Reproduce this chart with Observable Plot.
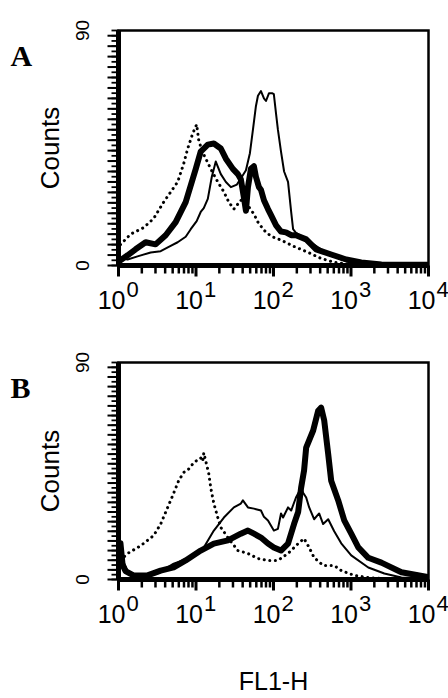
<!DOCTYPE html>
<html><head><meta charset="utf-8">
<script src="https://cdn.jsdelivr.net/npm/d3@7"></script>
<script src="https://cdn.jsdelivr.net/npm/@observablehq/plot@0.6"></script>
<style>
html,body{margin:0;padding:0;background:#fff;}
#wrap{position:relative;width:448px;height:698px;overflow:hidden;background:#fff;}
#wrap > svg{position:absolute;left:0;}
</style></head><body><div id="wrap"></div>
<script>
// Panel A
const aThinFL = [1.06,1.31,1.76,2.6,3.5,4.71,5.8,7.36,8.55,10.2,11.5,12.6,14.2,16.0,18.0,20.9,24.3,28.2,33.7,39.1,44.1,49.6,54.3,59.3,63.0,68.9,75.3,80.0,87.5,95.7,101,108,114,125,137,154,169,179,195,264,412,748,1007,1829,10000];
const aThinCounts = [3,2.3,3.5,5,5.5,7.5,8.9,11,13.9,17,20.5,22,25.5,34,39.8,35,32,30,31,34,36.5,43,52,61,65,66.8,64,63,66,66,65.6,58,52,43.6,36,32,20.5,13.9,12.5,10,6.2,2.3,1.2,0.4,0];
const aThickFL = [1.06,1.31,1.66,2.24,3.01,4.06,5.47,7.36,9.93,11.5,14.2,17.0,20.9,24.3,29.9,34.7,37.9,41.5,44.1,46.8,51.1,55.9,59.3,64.9,68.9,75.3,84.9,92.9,108,125,145,169,195,264,355,555,868,1357,2466,10000];
const aThickCounts = [2,3.9,6.2,8.9,8.1,11.6,16.6,24.3,37,43.6,46.3,46.7,44.8,40.9,37,35,33,26,21,30,37,38,34,30,29,25,21.6,19.3,15.4,13,12.7,11.6,11.6,10,6.2,4.2,2.3,1.2,0.4,0.3];
const aDotFL = [1.06,1.43,2.11,2.84,3.83,5.8,6.94,7.82,9.08,10.2,10.9,12.6,15.5,19.1,22.9,26.5,30.8,37.9,48.2,55.9,63.0,75.3,92.9,125,184,280,412,607,1007];
const aDotCounts = [8,12,14.5,18,24.3,32,39,44.8,50.6,54,47.5,42.5,37,32,28.2,24.3,21.6,25,22.4,19.7,16.6,13.5,11.2,9.7,7.3,5,2.7,1.2,0.4];

// Panel B
const bThickFL = [1.06,1.13,1.23,1.56,2.37,3.5,5.15,7.36,11.5,17.0,25.8,37.9,46.8,55.9,68.9,84.9,101,125,154,184,208,227,248,264,325,377,412,451,508,555,684,818,1007,1242,1672,2466,4469,10000];
const bThickCounts = [15,6,3.5,1.7,1.7,3.7,5,7.9,12,14.9,16.2,19,20.3,19,17.4,14.9,13.3,12,14.9,23,28,38,45.2,54.7,61.8,70,71.3,66,52,41,32.8,24.5,19,13.3,9,7,3,1];
const bThinFL = [1.06,1.31,1.93,3.2,5.15,8.55,12.6,17.0,22.9,30.8,37.9,40.3,46.8,55.9,68.9,75.3,84.9,101,114,125,133,154,169,195,208,227,241,264,288,334,388,437,508,607,748,1007,1672,2694,4469,10000];
const bThinCounts = [10,3.7,0.8,2.5,6.6,9.1,13.3,20.3,25.7,29.9,31.5,32.8,29.9,29.4,28.6,26,24.5,20.3,21,27.4,25.7,29.9,28.6,34,35.7,38,36,34,30,25,27.4,23,25,20,15,10,5,2.5,0.8,0.5];
const bDotFL = [1.06,1.31,1.93,2.84,3.5,4.31,5.0,5.98,6.94,8.2,9.35,11.5,12.2,12.6,14.6,15.5,17.0,19.1,20.9,25.8,34.7,46.8,63.0,84.9,114,154,208,248,288,334,437,607,748,1102,1672,2466];
const bDotCounts = [8,10.8,14,18.2,23,29.9,34.8,41,44.4,46,48.5,50.4,49,52.5,44,38,31.5,25.7,21.6,17.4,12,10.8,8.7,7.9,7.9,10.8,14.9,17,13.3,9.1,5.8,5.8,3.7,1.7,0.8,0.4];

// Axes
const decades = [1,10,100,1000,10000];
const exponents = ["0","1","2","3","4"];
const minorMultipliers = [2,3,4,5,6,7,8,9];
const yTickValues = d3.range(0, 91, 2);
const yMajorValues = d3.range(0, 91, 4);
const yLabels = [0, 90];
const panelLetters = ["A", "B"];
const yAxisLabel = "Counts";
const xAxisLabel = "FL1-H";

const xMin = decades[0];
const yMin = yLabels[0];
const minorTicks = decades.slice(0, -1).flatMap(d => minorMultipliers.map(k => k * d));
const rows = (fl, counts) => fl.map((v, i) => ({fl: v, count: counts[i]}));
const yTickRows = vals => vals.map(v => ({x0: xMin, v}));
const xTickRows = vals => vals.map(v => ({v, y0: yMin}));
const decadeRows = decades.map((v, i) => ({v, exp: exponents[i], base: "10"}));
const yLabelRows = yLabels.map(v => ({v, label: String(v)}));

// tick glyphs drawn as dot symbols (screen-space lengths)
const leftTick = len => ({draw(ctx) { ctx.moveTo(-len, 0); ctx.lineTo(0, 0); }});
const downTick = len => ({draw(ctx) { ctx.moveTo(0, 0); ctx.lineTo(0, len); }});

function panel({letter, thin, thick, dotted, height, marginTop, marginBottom, top, showX}) {
  const marks = [
    Plot.line(dotted, {x: "fl", y: "count", stroke: "#000", strokeWidth: 3, strokeDasharray: "0.1 5.5", strokeLinecap: "round", clip: true}),
    Plot.line(thin, {x: "fl", y: "count", stroke: "#000", strokeWidth: 2, clip: true}),
    Plot.line(thick, {x: "fl", y: "count", stroke: "#000", strokeWidth: 6, strokeLinejoin: "round", clip: true}),
    Plot.dot(yTickRows(yTickValues), {x: "x0", y: "v", symbol: leftTick(7), r: 4, fill: "none", stroke: "#000", strokeWidth: 1.8}),
    Plot.dot(yTickRows(yMajorValues), {x: "x0", y: "v", symbol: leftTick(11), r: 4, fill: "none", stroke: "#000", strokeWidth: 2}),
    Plot.dot(xTickRows(minorTicks), {x: "v", y: "y0", symbol: downTick(8), r: 4, fill: "none", stroke: "#000", strokeWidth: 2.5}),
    Plot.dot(xTickRows(decades), {x: "v", y: "y0", symbol: downTick(11), r: 4, fill: "none", stroke: "#000", strokeWidth: 3}),
    Plot.frame({stroke: "#000", strokeWidth: 2.5}),
    Plot.ruleX([xMin], {stroke: "#000", strokeWidth: 5}),
    Plot.ruleY([yMin], {stroke: "#000", strokeWidth: 5}),
    Plot.text(decadeRows, {x: "v", frameAnchor: "bottom", text: "base", textAnchor: "end", lineAnchor: "bottom", dx: 7, dy: 43, fontSize: 25}),
    Plot.text(decadeRows, {x: "v", frameAnchor: "bottom", text: "exp", textAnchor: "start", lineAnchor: "bottom", dx: 8, dy: 31, fontSize: 22}),
    Plot.text(yLabelRows, {y: "v", frameAnchor: "left", text: "label", rotate: -90, dx: -36, fontSize: 19, textAnchor: "middle", lineAnchor: "middle"}),
    Plot.text([yAxisLabel], {frameAnchor: "left", text: d => d, rotate: -90, dx: -68, fontSize: 26, textAnchor: "middle", lineAnchor: "middle"}),
    Plot.text([letter], {frameAnchor: "top-left", text: d => d, dx: -108, dy: 35, fontFamily: "Liberation Serif, 'Times New Roman', serif", fontWeight: "bold", fontSize: 30, textAnchor: "start", lineAnchor: "bottom"})
  ];
  if (showX) {
    marks.push(Plot.text([xAxisLabel], {frameAnchor: "bottom", text: d => d, dy: 110, fontSize: 25, lineAnchor: "bottom"}));
  }
  const svg = Plot.plot({
    width: 448, height, marginLeft: 118, marginRight: 20, marginTop, marginBottom,
    x: {type: "log", domain: [1, 10000], axis: null},
    y: {domain: [0, 90], axis: null},
    style: {fontFamily: "'Liberation Sans', Arial, Helvetica, sans-serif", background: "white", color: "#000"},
    marks
  });
  svg.style.top = top + "px";
  document.getElementById("wrap").append(svg);
}

panel({letter: panelLetters[0], thin: rows(aThinFL, aThinCounts), thick: rows(aThickFL, aThickCounts), dotted: rows(aDotFL, aDotCounts), height: 330, marginTop: 30, marginBottom: 65, top: 0, showX: false});
panel({letter: panelLetters[1], thin: rows(bThinFL, bThinCounts), thick: rows(bThickFL, bThickCounts), dotted: rows(bDotFL, bDotCounts), height: 368, marginTop: 32, marginBottom: 119, top: 330, showX: true});
</script>
</body></html>
